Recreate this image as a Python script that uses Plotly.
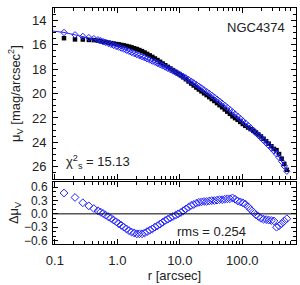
import plotly.graph_objects as go

# ---- data ----
radius = [0.14, 0.21, 0.28, 0.35, 0.42, 0.49, 0.54, 0.59, 0.65, 0.72, 0.79, 0.87, 0.96,
          1.05, 1.16, 1.27, 1.40, 1.54, 1.69, 1.86, 2.05, 2.25, 2.48, 2.73, 3.00, 3.30,
          3.63, 3.99, 4.39, 4.83, 5.31, 5.84, 6.43, 7.07, 7.78, 8.56, 9.41, 10.4, 11.4,
          12.5, 13.8, 15.2, 16.7, 18.4, 20.2, 22.2, 24.4, 26.9, 29.6, 32.5, 35.8, 39.4,
          43.3, 47.6, 52.4, 57.6, 63.4, 69.7, 76.7, 84.4, 92.8, 102, 112, 124, 136, 150,
          165, 181, 199, 219, 241, 265, 292, 321, 353, 388, 427, 470, 517]

mu_model = [15.00, 15.20, 15.33, 15.43, 15.51, 15.60, 15.68, 15.75, 15.82, 15.90, 15.97,
            16.05, 16.13, 16.20, 16.28, 16.36, 16.45, 16.54, 16.63, 16.72, 16.81, 16.89,
            16.98, 17.07, 17.16, 17.25, 17.34, 17.43, 17.53, 17.63, 17.73, 17.83, 17.94,
            18.04, 18.15, 18.26, 18.37, 18.49, 18.60, 18.72, 18.86, 18.99, 19.13, 19.27,
            19.41, 19.55, 19.70, 19.85, 20.00, 20.15, 20.31, 20.47, 20.63, 20.80, 20.97,
            21.14, 21.32, 21.50, 21.68, 21.86, 22.05, 22.24, 22.42, 22.62, 22.81, 23.01,
            23.21, 23.41, 23.61, 23.82, 24.03, 24.24, 24.46, 24.69, 24.93, 25.22, 25.55,
            25.92, 26.35]

mu_obs = [15.47, 15.57, 15.58, 15.61, 15.63, 15.67, 15.72, 15.76, 15.79, 15.83, 15.87,
          15.91, 15.95, 15.98, 16.02, 16.06, 16.11, 16.16, 16.22, 16.29, 16.36, 16.44,
          16.53, 16.64, 16.76, 16.88, 17.00, 17.13, 17.26, 17.40, 17.54, 17.68, 17.82,
          17.95, 18.09, 18.23, 18.37, 18.52, 18.67, 18.83, 19.01, 19.18, 19.34, 19.51,
          19.67, 19.82, 19.98, 20.13, 20.29, 20.45, 20.61, 20.78, 20.95, 21.12, 21.30,
          21.48, 21.66, 21.86, 22.01, 22.15, 22.32, 22.49, 22.64, 22.78, 22.91, 23.05,
          23.19, 23.35, 23.51, 23.70, 23.90, 24.10, 24.31, 24.53, 24.63, 24.95, 25.33,
          25.76, 26.24]

residual = [0.47, 0.37, 0.25, 0.18, 0.12, 0.07, 0.04, 0.01, -0.03, -0.07, -0.10, -0.14,
            -0.18, -0.22, -0.26, -0.30, -0.34, -0.38, -0.41, -0.43, -0.45, -0.45, -0.45,
            -0.43, -0.40, -0.37, -0.34, -0.30, -0.27, -0.23, -0.19, -0.15, -0.12, -0.09,
            -0.06, -0.03, 0.00, 0.03, 0.07, 0.11, 0.15, 0.19, 0.21, 0.24, 0.26, 0.27,
            0.28, 0.28, 0.29, 0.30, 0.30, 0.31, 0.32, 0.32, 0.33, 0.34, 0.34, 0.36, 0.33,
            0.29, 0.27, 0.25, 0.22, 0.16, 0.10, 0.04, -0.02, -0.06, -0.10, -0.12, -0.13,
            -0.14, -0.15, -0.16, -0.30, -0.27, -0.22, -0.16, -0.11]

model_center_r = 0.09
model_center_mu = 14.88

x_ticks = [0.1, 1, 10, 100]
x_ticklabels = ["0.1", "1.0", "10.0", "100.0"]
x_minor = [0.09] + [k * 0.1 for k in range(2, 10)] + [k * 1.0 for k in range(2, 10)] + \
          [k * 10.0 for k in range(2, 10)] + [k * 100.0 for k in range(2, 8)]
mu_ticks = [14, 16, 18, 20, 22, 24, 26]
res_ticks = [-0.6, -0.3, 0.0, 0.3, 0.6]
res_ticklabels = ["\u22120.6", "\u22120.3", "0.0", "0.3", "0.6"]

galaxy = "NGC4374"
chi2_text = "15.13"
rms_text = "0.254"

FONT = "Liberation Sans, Arial, sans-serif"
BLUE = "#2020ff"
TXT = "#222222"

fig = go.Figure()

# main panel
fig.add_trace(go.Scatter(x=radius, y=mu_obs, mode="markers", xaxis="x2", yaxis="y2",
                         marker=dict(symbol="square", size=4.5, color="black"),
                         showlegend=False))
fig.add_trace(go.Scatter(x=[model_center_r] + radius, y=[model_center_mu] + mu_model,
                         mode="lines", xaxis="x2", yaxis="y2",
                         line=dict(color=BLUE, width=1), showlegend=False))
fig.add_trace(go.Scatter(x=radius, y=mu_model, mode="markers", xaxis="x2", yaxis="y2",
                         marker=dict(symbol="diamond-open", size=5, color=BLUE,
                                     line=dict(width=1, color=BLUE)),
                         showlegend=False))

# residual panel
fig.add_trace(go.Scatter(x=radius, y=residual, mode="markers", xaxis="x", yaxis="y",
                         marker=dict(symbol="diamond-open", size=6, color=BLUE,
                                     line=dict(width=1, color=BLUE)),
                         showlegend=False))

xrange = [-1.03, 2.86]
common_axis = dict(showline=True, linecolor="black", linewidth=1, mirror="allticks",
                   ticks="inside", ticklen=5, tickcolor="black", showgrid=False,
                   zeroline=False, tickfont=dict(family=FONT, size=13, color=TXT))

fig.update_layout(
    width=300, height=285,
    margin=dict(l=53, r=4, t=8, b=41),
    paper_bgcolor="white", plot_bgcolor="white",
    font=dict(family=FONT, size=13, color=TXT),
    xaxis=dict(type="log", range=xrange, domain=[0, 1], anchor="y",
               tickmode="array", tickvals=x_ticks, ticktext=x_ticklabels,
               ticklabelstandoff=4,
               minor=dict(tickvals=x_minor, ticks="inside", ticklen=3, tickcolor="black"),
               title=dict(text="r [arcsec]", font=dict(family=FONT, size=13), standoff=4),
               **common_axis),
    xaxis2=dict(type="log", range=xrange, domain=[0, 1], anchor="y2", matches="x",
                tickmode="array", tickvals=x_ticks, showticklabels=False,
                minor=dict(tickvals=x_minor, ticks="inside", ticklen=3, tickcolor="black"),
                **common_axis),
    yaxis=dict(range=[-0.68, 0.72], domain=[0, 0.263], anchor="x",
               tickmode="array", tickvals=res_ticks, ticktext=res_ticklabels,
               ticklabelstandoff=2,
               minor=dict(dtick=0.1, ticks="inside", ticklen=3, tickcolor="black"),
               title=dict(text="\u0394\u03bc<sub>V</sub>", font=dict(family=FONT, size=13),
                          standoff=2),
               **common_axis),
    yaxis2=dict(range=[27, 13], domain=[0.275, 1], anchor="x2",
                tickmode="array", tickvals=mu_ticks, ticklabelstandoff=3,
                minor=dict(dtick=0.5, ticks="inside", ticklen=3, tickcolor="black"),
                title=dict(text="\u03bc<sub>V</sub> [mag/arcsec<sup>2</sup>]",
                           font=dict(family=FONT, size=13), standoff=8),
                **common_axis),
)
fig.update_yaxes(tickfont=dict(size=12), selector=dict(anchor="x"))

fig.add_shape(type="line", xref="x domain", yref="y", x0=0, x1=1, y0=0, y1=0,
              line=dict(color="black", width=1))

fig.add_annotation(text=galaxy, xref="paper", yref="paper", x=0.963, y=0.919,
                   xanchor="right", yanchor="middle", showarrow=False,
                   font=dict(family=FONT, size=13, color=TXT))
fig.add_annotation(text="\u03c7<sup>2</sup><sub>s</sub> = " + chi2_text, xref="paper",
                   yref="paper", x=0.045, y=0.347, xanchor="left", yanchor="middle",
                   showarrow=False, font=dict(family=FONT, size=13, color=TXT))
fig.add_annotation(text="rms = " + rms_text, xref="paper", yref="paper", x=0.654,
                   y=0.051, xanchor="center", yanchor="middle", showarrow=False,
                   font=dict(family=FONT, size=13, color=TXT))

fig.write_html("out.html", config={"displayModeBar": False},
               post_script="document.body.style.margin='0';document.body.style.overflow='hidden';")
